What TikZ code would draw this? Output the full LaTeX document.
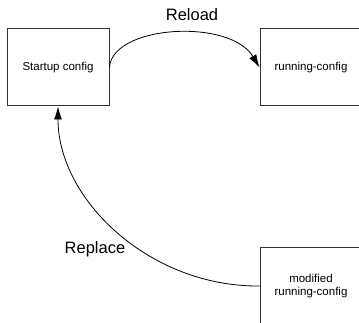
\documentclass[tikz,border=0pt]{standalone}
\usepackage{fontspec}
\setmainfont{Liberation Sans}
\usetikzlibrary{arrows.meta}

\begin{document}
\begin{tikzpicture}[x=1pt, y=-1pt,
  cfgbox/.style={draw=black!80, line width=1pt, minimum width=102pt, minimum height=77pt, font=\fontsize{11.5}{13.5}\selectfont, align=center},
  flow/.style={line width=0.8pt, -{Latex[length=13pt,width=8pt]}},
  flowlabel/.style={font=\fontsize{16.5}{19}\selectfont}]
\useasboundingbox (0,0) rectangle (359,323);
\clip (0,0) rectangle (359,323);
\node[cfgbox] (startup) at (58,67.5) {Startup config};
\node[cfgbox] (running) at (311,67.5) {running-config};
\node[cfgbox] (modified) at (311,286) {modified\\running-config};
\draw[flow] (startup.east) .. controls (112,25) and (230,18) .. (running.west);
\draw[flow] (modified.west) .. controls (150,287) and (58,200) .. (startup.south);
\node[flowlabel] (reload) at (192,15) {Reload};
\node[flowlabel] (replace) at (95,249) {Replace};
\end{tikzpicture}
\end{document}
